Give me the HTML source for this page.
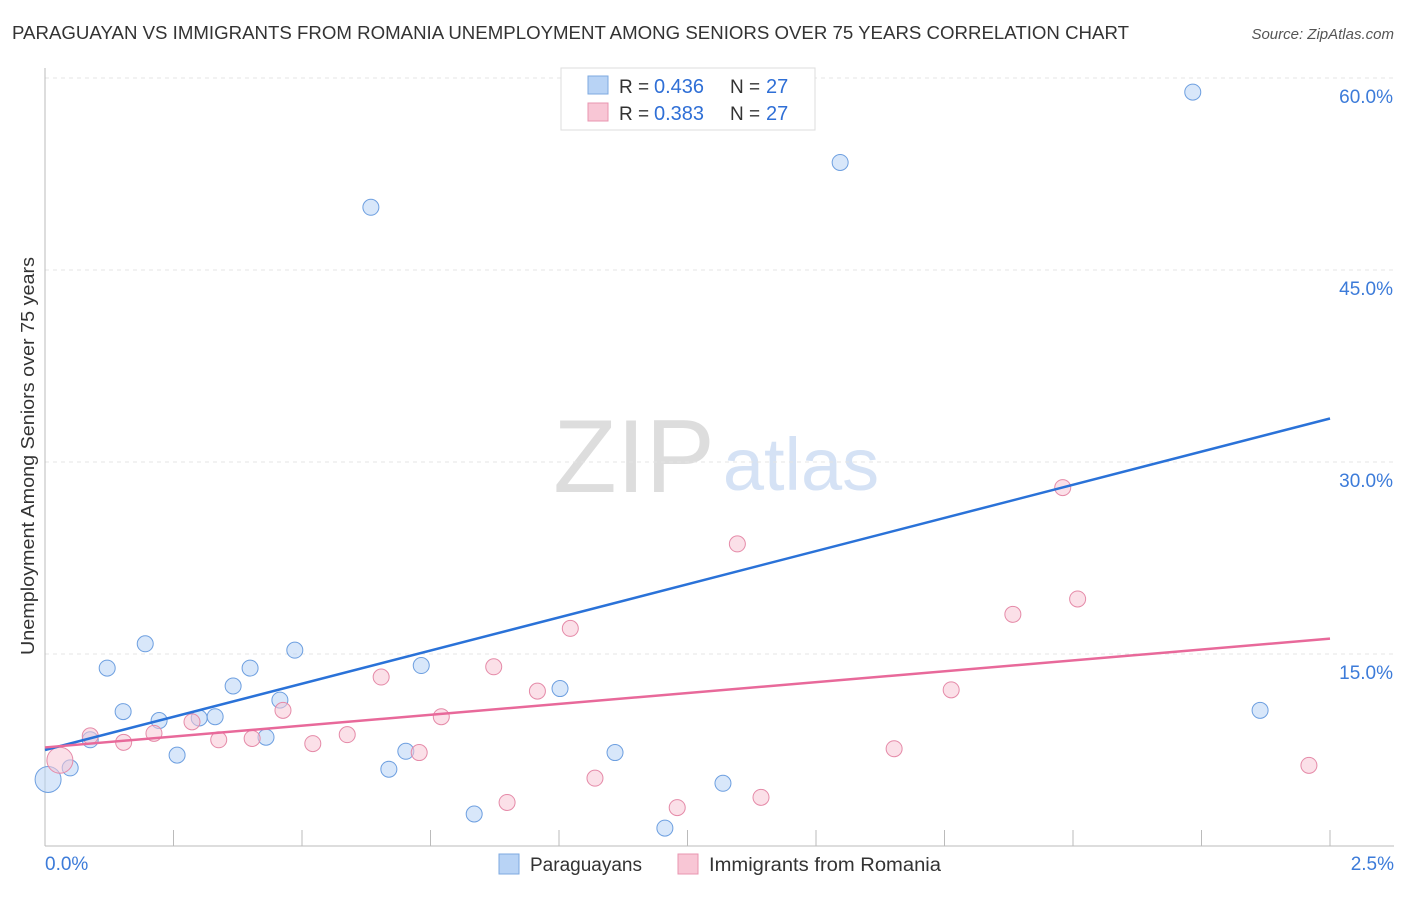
<!DOCTYPE html>
<html><head><meta charset="utf-8"><style>
body{margin:0;background:#fff;font-family:"Liberation Sans",sans-serif;}
svg text{font-family:"Liberation Sans",sans-serif;}
</style></head><body>
<svg id="chart" width="1406" height="892">
<text x="12" y="39" font-size="18" fill="#333" textLength="1117" lengthAdjust="spacingAndGlyphs">PARAGUAYAN VS IMMIGRANTS FROM ROMANIA UNEMPLOYMENT AMONG SENIORS OVER 75 YEARS CORRELATION CHART</text>
<text x="1394" y="39" font-size="15" fill="#555" font-style="italic" text-anchor="end">Source: ZipAtlas.com</text>
<text x="634" y="492" font-size="104" fill="#ddd" font-family="Liberation Serif" text-anchor="middle">ZIP</text>
<text x="801" y="490" font-size="74" fill="#d5e2f5" text-anchor="middle">atlas</text>
<text transform="translate(34,456) rotate(-90)" font-size="18" fill="#333" text-anchor="middle" textLength="398" lengthAdjust="spacingAndGlyphs">Unemployment Among Seniors over 75 years</text>
<g id="axes"></g>
<g id="marks"></g>
<g>
<rect x="561" y="68" width="254" height="62" fill="#fff" stroke="#ddd"/>
<rect x="588" y="76" width="20" height="18" fill="#b8d3f5" stroke="#7ea9e0"/>
<text x="619" y="93" font-size="19" fill="#333">R =</text>
<text x="654" y="93" font-size="20" fill="#2f6fd6">0.436</text>
<text x="730" y="93" font-size="19" fill="#333">N =</text>
<text x="766" y="93" font-size="20" fill="#2f6fd6">27</text>
<rect x="588" y="103" width="20" height="18" fill="#f8c6d5" stroke="#e995b0"/>
<text x="619" y="120" font-size="19" fill="#333">R =</text>
<text x="654" y="120" font-size="20" fill="#2f6fd6">0.383</text>
<text x="730" y="120" font-size="19" fill="#333">N =</text>
<text x="766" y="120" font-size="20" fill="#2f6fd6">27</text>
</g>
<g>
<rect x="499" y="854" width="20" height="20" fill="#b8d3f5" stroke="#7ea9e0"/>
<text x="530" y="871" font-size="19" fill="#333">Paraguayans</text>
<rect x="678" y="854" width="20" height="20" fill="#f8c6d5" stroke="#e995b0"/>
<text x="709" y="871" font-size="19" fill="#333" textLength="232" lengthAdjust="spacingAndGlyphs">Immigrants from Romania</text>
</g>
</svg>
<script>
const blueX=[0.006,0.049,0.088,0.121,0.152,0.195,0.222,0.257,0.300,0.331,0.366,0.399,0.430,0.457,0.486,0.634,0.669,0.702,0.732,0.835,1.002,1.109,1.206,1.319,1.547,2.233,2.364];
const blueY=[5.2,6.1,8.3,13.9,10.5,15.8,9.8,7.1,10.0,10.1,12.5,13.9,8.5,11.4,15.3,49.9,6.0,7.4,14.1,2.5,12.3,7.3,1.4,4.9,53.4,58.9,10.6];
const pinkX=[0.029,0.088,0.153,0.212,0.286,0.338,0.403,0.463,0.521,0.588,0.654,0.728,0.771,0.873,0.899,0.958,1.022,1.070,1.230,1.347,1.393,1.652,1.763,1.883,1.980,2.009,2.459];
const pinkY=[6.7,8.6,8.1,8.8,9.7,8.3,8.4,10.6,8.0,8.7,13.2,7.3,10.1,14.0,3.4,12.1,17.0,5.3,3.0,23.6,3.8,7.6,12.2,18.1,28.0,19.3,6.3];
const blueTrend=[7.5,33.4];
const pinkTrend=[7.7,16.2];
const yTicks=[15,30,45,60];
const yTickLabels=["15.0%","30.0%","45.0%","60.0%"];
const xTickLabels=["0.0%","2.5%"];
const X=v=>45+v/2.5*1285, Y=v=>846-v*12.8;
const NS="http://www.w3.org/2000/svg";
function mk(p,t,a){const e=document.createElementNS(NS,t);for(const k in a)e.setAttribute(k,a[k]);p.appendChild(e);return e;}
const ax=document.getElementById('axes'),mg=document.getElementById('marks');
yTicks.forEach((t,i)=>{
 const l=mk(ax,'line',{x1:45,x2:1394,y1:Y(t),y2:Y(t),stroke:'#e4e4e4','stroke-dasharray':'4,4'});
 
 
 const tx=mk(ax,'text',{x:1393,y:Y(t)+25,'font-size':19,fill:'#3c7bd9','text-anchor':'end'});
 tx.textContent=yTickLabels[i];
 
 
});
const la=mk(ax,'line',{x1:45,x2:45,y1:68,y2:846,stroke:'#bbb'});


const ba=mk(ax,'line',{x1:45,x2:1394,y1:846,y2:846,stroke:'#bbb'});


for(let i=0;i<=10;i++){const t=mk(ax,'line',{x1:X(i*0.25),x2:X(i*0.25),y1:830,y2:846,stroke:'#bbb'});
 
 }
[[xTickLabels[0],45,'start'],[xTickLabels[1],1394,'end']].forEach(([s,x,a])=>{const t=mk(ax,'text',{x:x,y:870,'font-size':19,fill:'#3c7bd9','text-anchor':a});t.textContent=s;
 
 });
function pts(xs,ys,fill,stroke,name){xs.forEach((x,i)=>{const r=i==0?13:8;const c=mk(mg,'circle',{cx:X(x),cy:Y(ys[i]),r:r,fill:fill,'fill-opacity':0.55,stroke:stroke,'stroke-width':1});
 
 });}
pts(blueX,blueY,'#b8d3f5','#6d9fe0','paraguayan-point');
pts(pinkX,pinkY,'#f8c6d5','#e58aa8','romania-point');
const bl=mk(mg,'line',{x1:X(0),y1:Y(blueTrend[0]),x2:X(2.5),y2:Y(blueTrend[1]),stroke:'#2a72d8','stroke-width':2.5});


const pl=mk(mg,'line',{x1:X(0),y1:Y(pinkTrend[0]),x2:X(2.5),y2:Y(pinkTrend[1]),stroke:'#e8699a','stroke-width':2.5});


</script>
</body></html>
